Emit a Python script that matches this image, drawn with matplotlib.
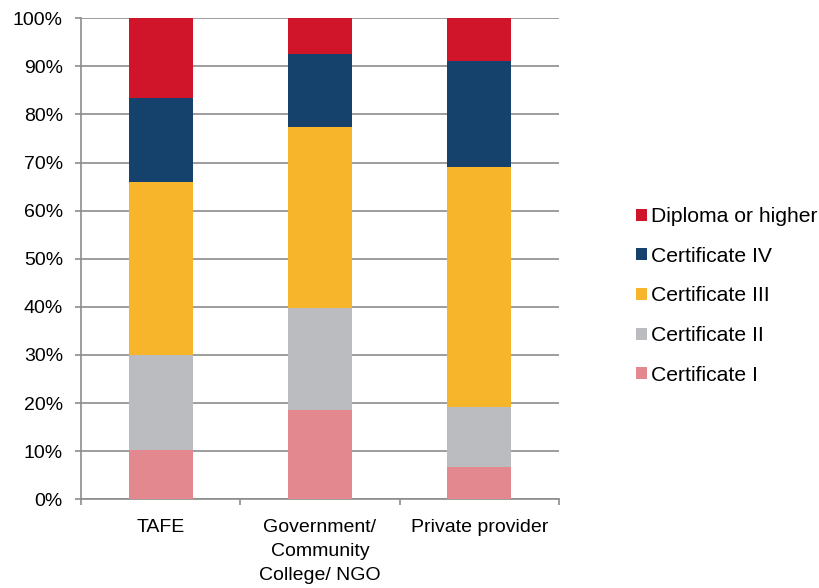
import matplotlib
matplotlib.use("Agg")
import matplotlib.pyplot as plt
from matplotlib.patches import Patch
from matplotlib.ticker import FixedLocator, PercentFormatter
import numpy as np

plt.rcParams['font.family'] = ['Liberation Sans', 'DejaVu Sans']

# provider types on the x axis
categories = ["TAFE", "Government/\nCommunity\nCollege/ NGO", "Private provider"]

# share of each qualification level (%), bottom to top
cert_i = [10.3, 18.6, 6.8]
cert_ii = [19.6, 21.1, 12.3]
cert_iii = [36.1, 37.7, 50.0]
cert_iv = [17.5, 15.2, 22.0]
diploma = [16.5, 7.4, 8.9]

series_names = ["Certificate I", "Certificate II", "Certificate III",
                "Certificate IV", "Diploma or higher"]
series_values = [cert_i, cert_ii, cert_iii, cert_iv, diploma]
colors = ["#E48890", "#BBBCC0", "#F7B52C", "#15426C", "#D0142A"]

fig = plt.figure(figsize=(8.19, 5.88), dpi=100)
ax = fig.add_axes([0.0989, 0.1509, 0.5836, 0.818])

x = np.arange(len(categories))
bottom = np.zeros(len(categories))
for name, vals, col in zip(series_names, series_values, colors):
    ax.bar(x, vals, width=0.4, bottom=bottom, color=col, label=name,
           edgecolor='none', zorder=3)
    bottom += np.array(vals)

ax.set_xlim(-0.5, len(categories) - 0.5)
ax.set_ylim(0, 100)
ax.set_yticks(np.arange(0, 101, 10))
ax.yaxis.set_major_formatter(PercentFormatter(decimals=0))
ax.grid(axis='y', color='#8c8c8c', linewidth=1.2, zorder=0)

# category labels at centres, tick marks at boundaries
ax.set_xticks(x)
ax.set_xticklabels(categories, fontsize=14, linespacing=1.55)
ax.tick_params(axis='x', which='major', length=0, pad=14)
ax.xaxis.set_minor_locator(FixedLocator(np.arange(-0.5, len(categories), 1.0)))
ax.tick_params(axis='x', which='minor', length=4, width=1.2, color='#8c8c8c')
ax.tick_params(axis='y', labelsize=14, length=4, width=1.2, color='#8c8c8c', pad=9)

for side in ['top', 'right']:
    ax.spines[side].set_visible(False)
for side in ['left', 'bottom']:
    ax.spines[side].set_color('#8c8c8c')
    ax.spines[side].set_linewidth(1.2)

handles = [Patch(facecolor=c, edgecolor='none') for c in colors][::-1]
labels = series_names[::-1]
fig.legend(handles, labels, loc='center left', bbox_to_anchor=(636 / 819, 0.4966),
           frameon=False, fontsize=15.2, handlelength=0.5, handleheight=0.5,
           handletextpad=0.2, labelspacing=0.98, borderpad=0, borderaxespad=0)

fig.savefig("out.png", dpi=100)
